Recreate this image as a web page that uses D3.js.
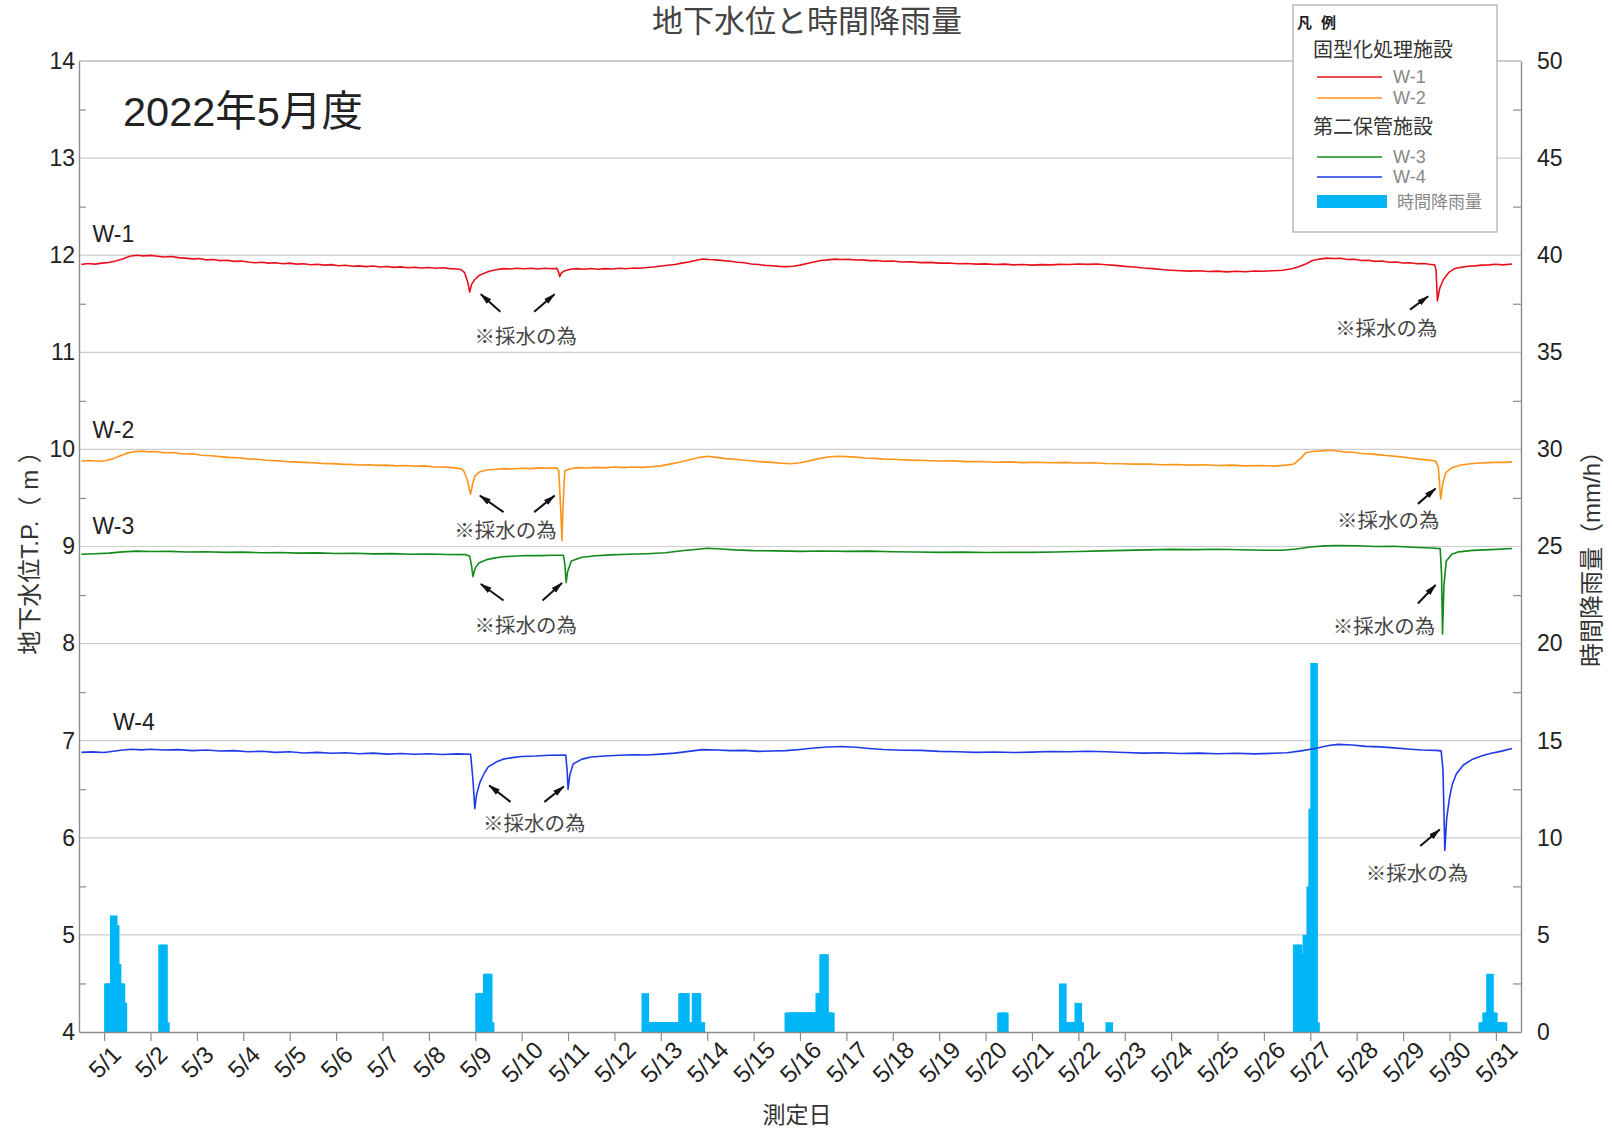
<!DOCTYPE html>
<html>
<head>
<meta charset="utf-8">
<script src="https://cdn.jsdelivr.net/npm/d3@7"></script>
<style>
  body { margin: 0; background: #fff; }
  svg { display: block; font-family: "Liberation Sans", "Noto Sans CJK JP", sans-serif; }
</style>
</head>
<body>
<svg id="chart" width="1612" height="1134"></svg>
<script>
// ---- data (days are counted from 5/1 00:00) ----
const dayLabels = ["5/1","5/2","5/3","5/4","5/5","5/6","5/7","5/8","5/9","5/10",
  "5/11","5/12","5/13","5/14","5/15","5/16","5/17","5/18","5/19","5/20",
  "5/21","5/22","5/23","5/24","5/25","5/26","5/27","5/28","5/29","5/30","5/31"];
const leftTicks = [4, 5, 6, 7, 8, 9, 10, 11, 12, 13, 14];
const rightTicks = [0, 5, 10, 15, 20, 25, 30, 35, 40, 45, 50];

// groundwater level T.P. (m): [day, level]
const w1 = [[-0.49,11.905],[-0.35,11.915],[-0.2,11.908],[-0.05,11.918],[0.1,11.925],[0.25,11.94],[0.4,11.962],
  [0.55,11.99],[0.7,12.0],[0.85,11.993],[1.0,11.998],[1.15,11.99],[1.3,11.982],[1.45,11.986],[1.6,11.975],
  [1.75,11.97],[1.9,11.962],[2.05,11.966],[2.2,11.952],[2.35,11.955],[2.5,11.944],[2.65,11.948],[2.8,11.936],
  [2.95,11.94],[3.1,11.93],[3.25,11.922],[3.4,11.928],[3.55,11.918],[3.7,11.922],[3.85,11.912],[4.0,11.918],
  [4.15,11.908],[4.3,11.912],[4.45,11.902],[4.6,11.906],[4.75,11.898],[4.9,11.903],[5.05,11.892],[5.2,11.897],
  [5.35,11.886],[5.5,11.89],[5.65,11.882],[5.8,11.888],[5.95,11.878],[6.1,11.884],[6.25,11.875],[6.4,11.88],
  [6.55,11.871],[6.7,11.876],[6.85,11.868],[7.0,11.874],[7.15,11.866],[7.3,11.87],[7.45,11.862],[7.6,11.858],
  [7.7,11.85],[7.77,11.82],[7.84,11.72],[7.88,11.62],[7.92,11.7],[7.99,11.75],[8.08,11.79],[8.17,11.81],
  [8.3,11.835],[8.45,11.85],[8.6,11.862],[8.75,11.858],[8.9,11.866],[9.05,11.86],[9.2,11.866],[9.35,11.858],
  [9.5,11.865],[9.65,11.86],[9.76,11.864],[9.8,11.82],[9.82,11.78],[9.86,11.82],[9.93,11.84],[10.05,11.855],
  [10.2,11.862],[10.35,11.856],[10.5,11.863],[10.65,11.855],[10.8,11.862],[10.95,11.858],[11.1,11.866],
  [11.25,11.86],[11.4,11.868],[11.55,11.866],[11.7,11.874],[11.85,11.878],[12.0,11.888],[12.15,11.896],
  [12.3,11.905],[12.45,11.918],[12.6,11.93],[12.75,11.945],[12.9,11.96],[13.05,11.955],[13.2,11.952],
  [13.35,11.944],[13.5,11.938],[13.65,11.928],[13.8,11.922],[13.95,11.91],[14.1,11.905],[14.25,11.895],
  [14.4,11.892],[14.55,11.885],[14.7,11.882],[14.85,11.886],[15.0,11.898],[15.15,11.915],[15.3,11.93],
  [15.45,11.945],[15.6,11.952],[15.75,11.96],[15.9,11.956],[16.05,11.958],[16.2,11.95],[16.35,11.952],
  [16.5,11.944],[16.65,11.946],[16.8,11.938],[17.0,11.94],[17.2,11.93],[17.4,11.932],[17.6,11.924],
  [17.8,11.926],[18.0,11.918],[18.2,11.92],[18.4,11.912],[18.6,11.915],[18.8,11.908],[19.0,11.911],
  [19.2,11.904],[19.4,11.908],[19.6,11.9],[19.8,11.905],[20.0,11.898],[20.2,11.903],[20.4,11.9],[20.6,11.906],
  [20.8,11.904],[21.0,11.91],[21.2,11.906],[21.4,11.91],[21.6,11.902],[21.8,11.895],[22.0,11.885],[22.2,11.878],
  [22.4,11.868],[22.6,11.862],[22.8,11.852],[23.0,11.845],[23.2,11.84],[23.4,11.836],[23.6,11.84],[23.8,11.832],
  [24.0,11.836],[24.2,11.828],[24.4,11.834],[24.6,11.83],[24.8,11.838],[25.0,11.834],[25.2,11.84],[25.4,11.845],
  [25.6,11.86],[25.75,11.88],[25.9,11.91],[26.05,11.945],[26.2,11.96],[26.35,11.97],[26.5,11.966],[26.65,11.968],
  [26.8,11.956],[26.95,11.958],[27.1,11.945],[27.25,11.948],[27.4,11.936],[27.55,11.94],[27.7,11.928],
  [27.85,11.93],[28.0,11.92],[28.15,11.922],[28.3,11.912],[28.45,11.914],[28.6,11.905],[28.68,11.9],
  [28.71,11.85],[28.74,11.53],[28.79,11.66],[28.87,11.75],[28.98,11.82],[29.1,11.86],[29.25,11.875],
  [29.4,11.886],[29.55,11.89],[29.7,11.898],[29.85,11.9],[30.0,11.906],[30.15,11.9],[30.35,11.91]];

const w2 = [[-0.49,9.88],[-0.3,9.886],[-0.1,9.878],[0.05,9.885],[0.2,9.905],[0.35,9.935],[0.5,9.962],
  [0.65,9.975],[0.8,9.982],[0.95,9.975],[1.1,9.978],[1.3,9.965],[1.5,9.968],[1.7,9.952],[1.9,9.955],[2.1,9.94],
  [2.3,9.934],[2.5,9.926],[2.7,9.918],[2.9,9.914],[3.1,9.902],[3.3,9.898],[3.5,9.888],[3.7,9.884],[3.9,9.876],
  [4.1,9.872],[4.3,9.866],[4.5,9.862],[4.7,9.856],[4.9,9.854],[5.1,9.848],[5.3,9.846],[5.5,9.84],[5.7,9.842],
  [5.9,9.835],[6.1,9.838],[6.3,9.83],[6.5,9.834],[6.7,9.826],[6.9,9.83],[7.1,9.82],[7.3,9.818],[7.5,9.812],
  [7.7,9.8],[7.75,9.78],[7.82,9.7],[7.9,9.54],[7.95,9.66],[8.0,9.73],[8.1,9.77],[8.28,9.79],[8.45,9.795],
  [8.6,9.802],[8.8,9.798],[9.0,9.806],[9.2,9.802],[9.4,9.81],[9.6,9.806],[9.76,9.81],[9.8,9.78],[9.84,9.4],
  [9.87,9.06],[9.89,9.4],[9.93,9.78],[10.05,9.8],[10.2,9.812],[10.4,9.808],[10.6,9.815],[10.8,9.81],[11.0,9.818],
  [11.2,9.812],[11.4,9.818],[11.6,9.815],[11.8,9.822],[12.0,9.83],[12.2,9.848],[12.4,9.868],[12.6,9.89],
  [12.8,9.915],[13.0,9.93],[13.2,9.918],[13.4,9.905],[13.6,9.898],[13.8,9.888],[14.0,9.88],[14.2,9.872],
  [14.4,9.866],[14.6,9.858],[14.8,9.852],[15.0,9.862],[15.2,9.882],[15.4,9.905],[15.6,9.922],[15.8,9.93],
  [16.0,9.926],[16.2,9.92],[16.4,9.912],[16.6,9.908],[16.8,9.9],[17.1,9.896],[17.4,9.89],[17.7,9.886],
  [18.0,9.88],[18.3,9.882],[18.6,9.874],[18.9,9.876],[19.2,9.868],[19.5,9.872],[19.8,9.864],[20.1,9.868],
  [20.4,9.862],[20.7,9.866],[21.0,9.86],[21.3,9.862],[21.6,9.855],[21.9,9.852],[22.2,9.848],[22.5,9.85],
  [22.8,9.842],[23.1,9.845],[23.4,9.838],[23.7,9.842],[24.0,9.834],[24.3,9.838],[24.6,9.83],[24.9,9.834],
  [25.2,9.828],[25.5,9.838],[25.65,9.85],[25.8,9.91],[25.9,9.965],[26.05,9.978],[26.2,9.984],[26.35,9.99],
  [26.5,9.988],[26.7,9.975],[26.9,9.97],[27.1,9.958],[27.3,9.954],[27.5,9.944],[27.7,9.935],[27.9,9.926],
  [28.1,9.914],[28.3,9.902],[28.5,9.892],[28.7,9.88],[28.76,9.82],[28.81,9.49],[28.86,9.66],[28.92,9.76],
  [29.05,9.81],[29.25,9.84],[29.45,9.852],[29.65,9.86],[29.85,9.864],[30.05,9.868],[30.2,9.866],[30.35,9.872]];

const w3 = [[-0.49,8.92],[-0.2,8.925],[0.1,8.932],[0.4,8.945],[0.7,8.952],[1.0,8.948],[1.4,8.95],[1.8,8.944],
  [2.2,8.946],[2.6,8.94],[3.0,8.942],[3.4,8.936],[3.8,8.938],[4.2,8.932],[4.6,8.934],[5.0,8.928],[5.4,8.93],
  [5.8,8.924],[6.2,8.927],[6.6,8.92],[7.0,8.923],[7.4,8.918],[7.8,8.916],[7.88,8.9],[7.92,8.8],[7.95,8.69],
  [8.0,8.78],[8.08,8.83],[8.25,8.865],[8.4,8.88],[8.6,8.895],[8.8,8.9],[9.1,8.908],[9.4,8.906],[9.7,8.91],
  [9.9,8.91],[9.93,8.82],[9.96,8.63],[9.99,8.74],[10.07,8.85],[10.3,8.89],[10.6,8.905],[10.9,8.914],
  [11.3,8.92],[11.7,8.926],[12.1,8.935],[12.5,8.958],[12.8,8.972],[13.0,8.982],[13.3,8.975],[13.6,8.965],
  [14.0,8.958],[14.5,8.955],[15.0,8.95],[15.5,8.954],[16.0,8.95],[16.5,8.952],[17.0,8.946],[17.5,8.944],
  [18.0,8.94],[18.5,8.942],[19.0,8.938],[19.5,8.94],[20.0,8.94],[20.5,8.944],[21.0,8.948],[21.5,8.955],
  [22.0,8.96],[22.5,8.965],[23.0,8.97],[23.5,8.968],[24.0,8.972],[24.5,8.966],[25.0,8.962],[25.4,8.962],
  [25.7,8.975],[26.0,8.995],[26.3,9.006],[26.6,9.01],[27.0,9.008],[27.4,9.0],[27.8,9.002],[28.2,8.992],
  [28.6,8.985],[28.8,8.978],[28.83,8.7],[28.85,8.1],[28.88,8.6],[28.93,8.85],[29.05,8.92],[29.2,8.945],
  [29.5,8.96],[29.9,8.968],[30.35,8.98]];

const w4 = [[-0.49,6.88],[-0.25,6.885],[0.0,6.878],[0.2,6.892],[0.4,6.905],[0.6,6.912],[0.8,6.906],[1.0,6.912],
  [1.3,6.904],[1.6,6.908],[1.9,6.898],[2.2,6.904],[2.5,6.894],[2.8,6.898],[3.1,6.886],[3.4,6.892],[3.7,6.88],
  [4.0,6.886],[4.3,6.874],[4.6,6.88],[4.9,6.87],[5.2,6.876],[5.5,6.866],[5.8,6.872],[6.1,6.862],[6.4,6.868],
  [6.7,6.86],[7.0,6.866],[7.3,6.858],[7.6,6.864],[7.9,6.86],[7.95,6.6],[7.99,6.3],[8.03,6.45],[8.1,6.57],
  [8.2,6.67],[8.28,6.73],[8.45,6.78],[8.6,6.81],[8.8,6.826],[9.0,6.838],[9.3,6.842],[9.6,6.85],[9.95,6.852],
  [9.98,6.7],[10.0,6.5],[10.04,6.65],[10.11,6.76],[10.3,6.81],[10.5,6.832],[10.8,6.842],[11.1,6.85],
  [11.4,6.856],[11.7,6.852],[12.0,6.862],[12.3,6.872],[12.6,6.89],[12.9,6.908],[13.2,6.904],[13.5,6.898],
  [13.8,6.9],[14.1,6.89],[14.4,6.894],[14.7,6.898],[15.0,6.91],[15.3,6.925],[15.6,6.935],[15.9,6.94],
  [16.2,6.932],[16.5,6.92],[16.8,6.91],[17.2,6.902],[17.6,6.9],[18.0,6.89],[18.4,6.886],[18.8,6.88],
  [19.2,6.884],[19.6,6.878],[20.0,6.882],[20.4,6.888],[20.8,6.886],[21.2,6.892],[21.6,6.886],[22.0,6.878],
  [22.4,6.872],[22.8,6.876],[23.2,6.868],[23.6,6.872],[24.0,6.866],[24.4,6.87],[24.8,6.864],[25.2,6.87],
  [25.5,6.876],[25.8,6.895],[26.1,6.92],[26.4,6.95],[26.6,6.962],[26.9,6.955],[27.2,6.942],[27.5,6.936],
  [27.8,6.926],[28.1,6.914],[28.4,6.905],[28.7,6.9],[28.82,6.895],[28.86,6.7],[28.9,5.87],[28.94,6.2],
  [29.0,6.41],[29.06,6.55],[29.15,6.66],[29.3,6.75],[29.5,6.81],[29.7,6.846],[29.9,6.87],[30.1,6.89],[30.35,6.92]];

// hourly rainfall (mm/h): hour counted from 5/1 00:00
const rainHour = [0,1,2,3,4,5,6,7,8, 28,29,30, 192,193,194,195,196,197,198,
  278,279,280,281,282,283,284,285,286,287,288,289,290,291,292,293,294,295,296,297,298,299,300,301,302,303,304,305,306,307,
  352,353,354,355,356,357,358,359,360,361,362,363,364,365,366,367,368,369,370,371,372,373,374,
  462,463,464, 494,495,496,497,498,499,500,501,502,503, 518,
  615,616,617,618,619,620,621,622,623,624,625,
  711,712,713,714,715,716,717,718,719,720,721,722];
const rainMm = [2.5,2.5,2.5,6,5.5,3.5,2.5,2.5,1.5, 4.5,4.5,0.5, 2,2,2,2,3,3,0.5,
  2,0.5,0.5,0.5,0.5,0.5,0.5,0.5,0.5,0.5,0.5,0.5,0.5,0.5,0.5,0.5,0.5,0.5,0.5,2,2,2,0.5,0.5,0.5,0.5,2,2,0.5,0.5,
  1,1,1,1,1,1,1,1,1,1,1,1,1,1,1,1,2,2,4,4,1,1,1,
  1,1,1, 2.5,0.5,0.5,0.5,0.5,0.5,0.5,0.5,1.5,0.5, 0.5,
  4.5,4.5,4,4,4,5,5,7.5,11.5,19,0.5,
  0.5,0.5,1,1,3,1,1,0.5,0.5,0.5,0.5,0.5];

const seriesNames = ["W-1", "W-2", "W-3", "W-4"];
const seriesColors = ["#e8101c", "#ff9419", "#138a1c", "#1f3be6"];
const seriesData = [w1, w2, w3, w4];

// sampling notes: arrows [dayTail, levelTail, dayHead, levelHead], labels [day, level]
const noteArrows = [
  [8.54,11.418,8.12,11.598],[9.27,11.418,9.71,11.598],[28.15,11.44,28.54,11.577],
  [8.61,9.354,8.10,9.524],[9.27,9.354,9.71,9.524],[28.32,9.439,28.70,9.598],
  [8.61,8.444,8.12,8.614],[9.45,8.444,9.87,8.624],[28.32,8.413,28.70,8.603],
  [8.76,6.37,8.30,6.54],[9.49,6.37,9.91,6.529],[28.37,5.915,28.79,6.085]];
const noteLabels = [[9.09,11.175],[27.64,11.26],[8.65,9.185],[27.68,9.28],
  [9.09,8.201],[27.59,8.19],[9.27,6.159],[28.30,5.651]];
const seriesLabelPos = [[-0.25,12.216],[-0.25,10.201],[-0.25,9.206],[0.19,7.195]];

// ---- drawing ----
const svg = d3.select("#chart");
const plot = { left: 79, right: 1521, top: 61, bottom: 1032 };
const start = new Date(2022, 4, 1);
const toDate = d => new Date(start.getTime() + d * 864e5);

const x = d3.scaleTime()
  .domain([toDate(-13 / 24), toDate(30 + 13 / 24)])
  .range([plot.left, plot.right]);
const yL = d3.scaleLinear().domain([4, 14]).range([plot.bottom, plot.top]);
const yR = d3.scaleLinear().domain([0, 50]).range([plot.bottom, plot.top]);

svg.append("rect").attr("width", 1612).attr("height", 1134).attr("fill", "#fff");

// gridlines
svg.append("g").selectAll("line")
  .data(leftTicks.filter(v => v > 4 && v < 14))
  .join("line")
  .attr("x1", plot.left).attr("x2", plot.right)
  .attr("y1", d => yL(d)).attr("y2", d => yL(d))
  .attr("stroke", "#cdcdcd").attr("stroke-width", 1.2);

// top frame
svg.append("line")
  .attr("x1", plot.left).attr("x2", plot.right)
  .attr("y1", yL(14)).attr("y2", yL(14))
  .attr("stroke", "#9a9a9a").attr("stroke-width", 1.2);

// rain bars
const barW = 7.6;
svg.append("g").selectAll("rect")
  .data(rainHour.map((h, i) => ({ t: toDate(h / 24), v: rainMm[i] })))
  .join("rect")
  .attr("x", d => x(d.t))
  .attr("y", d => yR(d.v))
  .attr("width", barW)
  .attr("height", d => yR(0) - yR(d.v))
  .attr("fill", "#00b6f7");

// level lines
const line = d3.line().x(d => x(toDate(d[0]))).y(d => yL(d[1]));
seriesData.forEach((s, i) => {
  svg.append("path")
    .datum(s)
    .attr("fill", "none")
    .attr("stroke", seriesColors[i])
    .attr("stroke-width", 1.6)
    .attr("stroke-linejoin", "round")
    .attr("d", line);
});

// axes
function styleAxis(g) {
  g.select(".domain").attr("stroke", "#8c8c8c").attr("stroke-width", 1.4);
  g.selectAll(".tick line").attr("stroke", "#8c8c8c").attr("stroke-width", 1.2);
  g.selectAll("text").attr("fill", "#222").attr("font-family", "Liberation Sans, sans-serif");
}

const leftAxis = svg.append("g")
  .attr("transform", `translate(${plot.left},0)`)
  .call(d3.axisLeft(yL).tickValues(leftTicks).tickSize(0).tickPadding(4));
leftAxis.call(styleAxis);
leftAxis.selectAll("text").attr("font-size", 23);

svg.append("g")
  .attr("transform", `translate(${plot.left},0)`)
  .call(d3.axisLeft(yL).tickValues(d3.range(4.5, 14, 1)).tickSize(-7).tickSizeOuter(0).tickFormat(""))
  .call(g => g.select(".domain").remove())
  .call(styleAxis);

const rightAxis = svg.append("g")
  .attr("transform", `translate(${plot.right},0)`)
  .call(d3.axisRight(yR).tickValues(rightTicks).tickSize(0).tickPadding(16));
rightAxis.call(styleAxis);
rightAxis.selectAll("text").attr("font-size", 23);

svg.append("g")
  .attr("transform", `translate(${plot.right},0)`)
  .call(d3.axisRight(yR).tickValues(d3.range(2.5, 50, 5)).tickSize(-8).tickSizeOuter(0).tickFormat(""))
  .call(g => g.select(".domain").remove())
  .call(styleAxis);

const dayDates = dayLabels.map((_, i) => toDate(i));
const bottomAxis = svg.append("g")
  .attr("transform", `translate(0,${plot.bottom})`)
  .call(d3.axisBottom(x).tickValues(dayDates).tickSize(9).tickSizeOuter(0)
    .tickFormat((d, i) => dayLabels[i]));
bottomAxis.call(styleAxis);
bottomAxis.selectAll("text")
  .attr("font-size", 24)
  .attr("y", null).attr("dy", null)
  .attr("text-anchor", "middle")
  .attr("dominant-baseline", "central")
  .attr("transform", "translate(0,30) rotate(-45)");

// series labels
svg.append("g").selectAll("text")
  .data(seriesNames)
  .join("text")
  .attr("x", (d, i) => x(toDate(seriesLabelPos[i][0])))
  .attr("y", (d, i) => yL(seriesLabelPos[i][1]))
  .attr("dominant-baseline", "central")
  .attr("font-size", 23)
  .attr("fill", "#222")
  .text(d => d);

// sampling notes
svg.append("defs").append("marker")
  .attr("id", "arrow")
  .attr("markerUnits", "userSpaceOnUse")
  .attr("markerWidth", 12).attr("markerHeight", 8)
  .attr("refX", 11).attr("refY", 4)
  .attr("orient", "auto")
  .append("path").attr("d", "M0,0.8 L12,4 L0,7.2 Z").attr("fill", "#111");

svg.append("g").selectAll("line")
  .data(noteArrows)
  .join("line")
  .attr("x1", d => x(toDate(d[0]))).attr("y1", d => yL(d[1]))
  .attr("x2", d => x(toDate(d[2]))).attr("y2", d => yL(d[3]))
  .attr("stroke", "#111").attr("stroke-width", 2)
  .attr("marker-end", "url(#arrow)");

svg.append("g").selectAll("text")
  .data(noteLabels)
  .join("text")
  .attr("x", d => x(toDate(d[0])))
  .attr("y", d => yL(d[1]))
  .attr("text-anchor", "middle")
  .attr("dominant-baseline", "central")
  .attr("font-family", "Noto Sans CJK JP, sans-serif")
  .attr("font-size", 20.5)
  .attr("fill", "#444")
  .text("※採水の為");

// titles
svg.append("text")
  .attr("x", 807).attr("y", 21)
  .attr("text-anchor", "middle").attr("dominant-baseline", "central")
  .attr("font-size", 31).attr("fill", "#444")
  .text("地下水位と時間降雨量");

svg.append("text")
  .attr("x", 123).attr("y", 111)
  .attr("dominant-baseline", "central")
  .attr("font-size", 41.5).attr("fill", "#222")
  .text("2022年5月度");

svg.append("text")
  .attr("transform", "translate(29,547) rotate(-90)")
  .attr("text-anchor", "middle").attr("dominant-baseline", "central")
  .attr("font-size", 24).attr("fill", "#333")
  .text("地下水位T.P.（ m ）");

svg.append("text")
  .attr("transform", "translate(1591,553) rotate(-90)")
  .attr("text-anchor", "middle").attr("dominant-baseline", "central")
  .attr("font-size", 24).attr("fill", "#333")
  .text("時間降雨量（mm/h）");

svg.append("text")
  .attr("x", 797).attr("y", 1115)
  .attr("text-anchor", "middle").attr("dominant-baseline", "central")
  .attr("font-size", 23).attr("fill", "#333")
  .text("測定日");

// legend
const lg = svg.append("g");
lg.append("rect")
  .attr("x", 1293).attr("y", 5).attr("width", 204).attr("height", 227)
  .attr("fill", "#fff").attr("stroke", "#a8a8a8").attr("stroke-width", 1.2);
lg.append("text").attr("x", 1297).attr("y", 22).attr("dominant-baseline", "central")
  .attr("font-size", 15).attr("font-weight", "bold").attr("fill", "#222").text("凡");
lg.append("text").attr("x", 1321).attr("y", 22).attr("dominant-baseline", "central")
  .attr("font-size", 15).attr("font-weight", "bold").attr("fill", "#222").text("例");

const groups = [["固型化処理施設", 50, [0, 1], [77, 98]], ["第二保管施設", 127, [2, 3], [157, 177]]];
groups.forEach(g => {
  lg.append("text").attr("x", 1313).attr("y", g[1]).attr("dominant-baseline", "central")
    .attr("font-size", 20).attr("fill", "#333").text(g[0]);
  g[2].forEach((si, k) => {
    lg.append("line").attr("x1", 1317).attr("x2", 1382).attr("y1", g[3][k]).attr("y2", g[3][k])
      .attr("stroke", seriesColors[si]).attr("stroke-width", 1.3);
    lg.append("text").attr("x", 1393).attr("y", g[3][k]).attr("dominant-baseline", "central")
      .attr("font-size", 18).attr("fill", "#888").text(seriesNames[si]);
  });
});
lg.append("rect").attr("x", 1317).attr("y", 195).attr("width", 70).attr("height", 13).attr("fill", "#00b6f7");
lg.append("text").attr("x", 1397).attr("y", 202).attr("dominant-baseline", "central")
  .attr("font-size", 17).attr("fill", "#888").text("時間降雨量");
</script>
</body>
</html>
